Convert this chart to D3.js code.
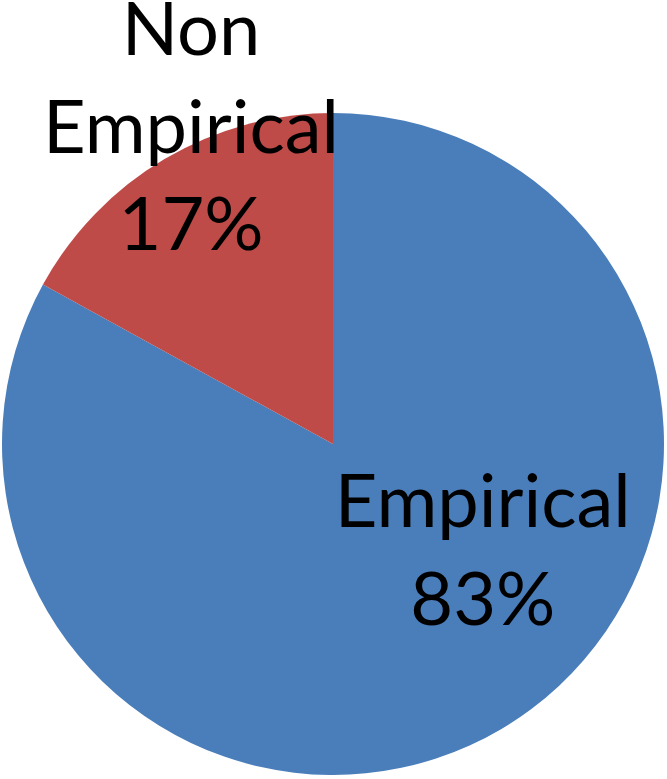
<!DOCTYPE html>
<html>
<head>
<meta charset="utf-8">
<script src="https://cdn.jsdelivr.net/npm/d3@7"></script>
<style>
  html, body { margin: 0; padding: 0; background: #fff; }
  svg text { font-family: Lato, "Open Sans", sans-serif; fill: #000; }
</style>
</head>
<body>
<svg id="chart" width="667" height="779"></svg>
<script>
// pie data
var categories = ['Empirical', 'Non Empirical'];
var values = [83, 17];
var colors = ['#4a7ebb', '#be4b48'];
var labelLines = [['Empirical', '83%'], ['Non', 'Empirical', '17%']];

var width = 667, height = 779;
var cx = 333, cy = 444, radius = 331;

var svg = d3.select('#chart');
var g = svg.append('g').attr('transform', 'translate(' + cx + ',' + cy + ')');

var pie = d3.pie().sort(null).value(function(d) { return d; });
var arc = d3.arc().innerRadius(0).outerRadius(radius);
var color = d3.scaleOrdinal().domain(categories).range(colors);

var arcs = pie(values);

g.selectAll('path')
  .data(arcs)
  .enter()
  .append('path')
  .attr('d', arc)
  .attr('fill', function(d, i) { return color(categories[i]); });

// label placement (excel "best fit" puts them off-centroid)
var labelAnchor = [
  { r: 184, a: 125.5 },   // Empirical
  { r: 347, a: 335.85 }   // Non Empirical
];
var fontSize = 74, lineH = 97.5;

arcs.forEach(function(d, i) {
  var p = labelAnchor[i];
  var rad = p.a * Math.PI / 180;
  var x = p.r * Math.sin(rad);
  var y = -p.r * Math.cos(rad);
  var lines = labelLines[i];
  var t = g.append('text')
    .attr('text-anchor', 'middle')
    .attr('font-size', fontSize)
    .attr('x', x)
    .attr('y', y - (lines.length - 1) * lineH / 2 + fontSize * 0.34);
  lines.forEach(function(s, j) {
    t.append('tspan')
      .attr('x', x)
      .attr('dy', j == 0 ? 0 : lineH)
      .text(s);
  });
});
</script>
</body>
</html>
